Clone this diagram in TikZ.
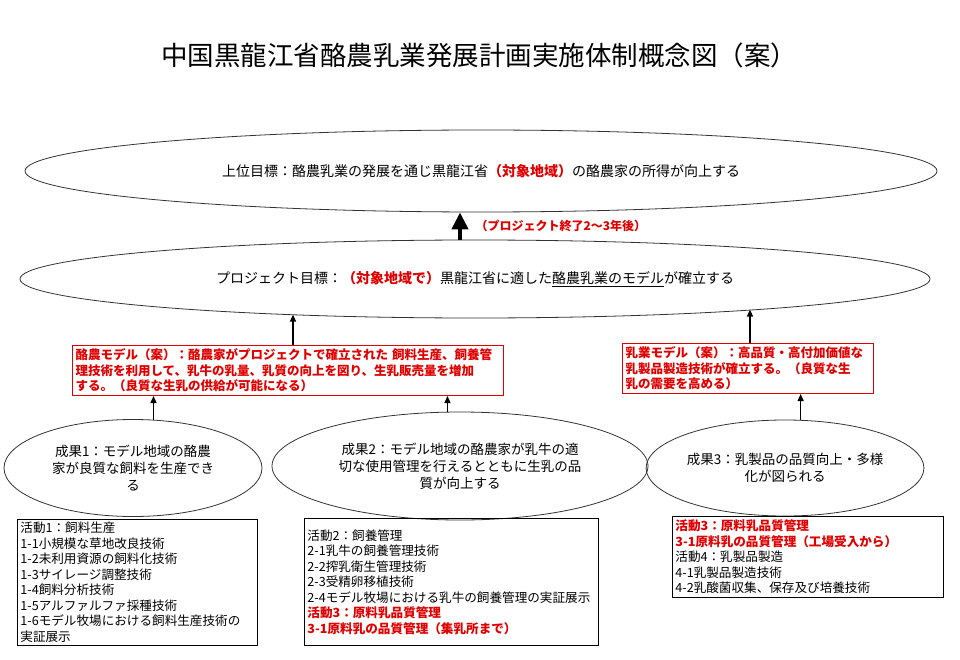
\documentclass[tikz,border=0pt]{standalone}
\usepackage{fontspec}
\setmainfont{Noto Sans CJK JP}
\usetikzlibrary{positioning, shapes.geometric, arrows.meta, calc}
\definecolor{plred}{HTML}{E00000}
\definecolor{plline}{HTML}{333333}
\tikzset{
  goalell/.style={draw=plline, ellipse, line width=0.8pt, inner sep=0pt,
    font=\fontsize{14}{17}\selectfont, align=center},
  outell/.style={draw=plline, ellipse, line width=0.8pt, inner sep=0pt,
    font=\fontsize{13.5}{17}\selectfont, align=center},
  modelbox/.style={draw=plred, line width=1pt, anchor=north west, align=left,
    inner xsep=3pt, inner ysep=1pt, text=plred,
    font=\fontsize{12.5}{15.5}\selectfont\bfseries},
  actbox/.style={draw=black, line width=0.8pt, anchor=north west, align=left,
    inner xsep=3pt, inner ysep=1pt, font=\fontsize{12.6}{15.5}\selectfont},
  arr/.style={-{Triangle[length=7pt,width=6pt]}, line width=1.4pt},
  bigarr/.style={-{Triangle[length=17pt,width=16pt]}, line width=4.5pt},
  redtxt/.style={text=plred, font=\bfseries}
}
\begin{document}
\begin{tikzpicture}[x=1pt, y=-1pt]
  \useasboundingbox (0,0) rectangle (960,660);
  \node[font=\fontsize{26.5}{30}\selectfont] (title) at (479,55) {中国黒龍江省酪農乳業発展計画実施体制概念図（案）};

  % goals
  \node[goalell, minimum width=912pt, minimum height=82pt] (goal) at (481,171)
    {上位目標：酪農乳業の発展を通じ黒龍江省{\color{plred}\bfseries（対象地域）}の酪農家の所得が向上する};
  \node[goalell, minimum width=910pt, minimum height=78pt] (pg) at (475,279)
    {プロジェクト目標：{\color{plred}\bfseries（対象地域で）}黒龍江省に適した\underline{酪農乳業のモデル}が確立する};
  \coordinate (bx) at (460,0);
  \draw[bigarr] (pg.north -| bx) -- (goal.south -| bx);
  \node[anchor=west, text=plred, font=\fontsize{12}{14}\selectfont\bfseries] (after) at (472,226)
    {（プロジェクト終了2～3年後）};

  % models
  \node[modelbox, text width=425pt, minimum height=50pt] (m1) at (72,345)
    {酪農モデル（案）：酪農家がプロジェクトで確立された 飼料生産、飼養管\\
     理技術を利用して、乳牛の乳量、乳質の向上を図り、生乳販売量を増加\\
     する。（良質な生乳の供給が可能になる）};
  \node[modelbox, text width=245pt, minimum height=50pt] (m2) at (622,343)
    {乳業モデル（案）：高品質・高付加価値な\\
     乳製品製造技術が確立する。（良質な生\\
     乳の需要を高める）};
  \coordinate (pgl) at ($(pg.center)+(-182,35.6)$);
  \coordinate (pgr) at ($(pg.center)+(275,30.6)$);
  \draw[arr] (m1.north -| pgl) -- (pgl);
  \draw[arr] (m2.north -| pgr) -- (pgr);

  % outcomes
  \node[outell, minimum width=258pt, minimum height=97pt] (out1) at (133,468)
    {成果1：モデル地域の酪農\\家が良質な飼料を生産でき\\る};
  \node[outell, minimum width=376pt, minimum height=108pt] (out2) at (460,466)
    {成果2：モデル地域の酪農家が乳牛の適\\切な使用管理を行えるとともに生乳の品\\質が向上する};
  \node[outell, minimum width=266pt, minimum height=96pt] (out3) at (785,468)
    {成果3：乳製品の品質向上・多様\\化が図られる};
  \draw[arr] (out1.67) -- (out1.67 |- m1.south);
  \draw[arr] (out2.103.5) -- (out2.103.5 |- m1.south);
  \draw[arr] (out3.72.5) -- (out3.72.5 |- m2.south);

  % activities
  \node[actbox, text width=234pt, minimum height=126pt] (act1) at (17,519)
    {活動1：飼料生産\\
     1-1小規模な草地改良技術\\
     1-2未利用資源の飼料化技術\\
     1-3サイレージ調整技術\\
     1-4飼料分析技術\\
     1-5アルファルファ採種技術\\
     1-6モデル牧場における飼料生産技術の\\
     実証展示};
  \node[actbox, text width=288pt, minimum height=127pt] (act2) at (304,518)
    {活動2：飼養管理\\
     2-1乳牛の飼養管理技術\\
     2-2搾乳衛生管理技術\\
     2-3受精卵移植技術\\
     2-4モデル牧場における乳牛の飼養管理の実証展示\\
     {\color{plred}\bfseries 活動3：原料乳品質管理}\\
     {\color{plred}\bfseries 3-1原料乳の品質管理（集乳所まで）}\par\vspace*{14pt}};
  \node[actbox, text width=265pt, minimum height=81pt] (act3) at (672,516)
    {{\color{plred}\bfseries 活動3：原料乳品質管理}\\
     {\color{plred}\bfseries 3-1原料乳の品質管理（工場受入から）}\\
     活動4：乳製品製造\\
     4-1乳製品製造技術\\
     4-2乳酸菌収集、保存及び培養技術};
\end{tikzpicture}
\end{document}
